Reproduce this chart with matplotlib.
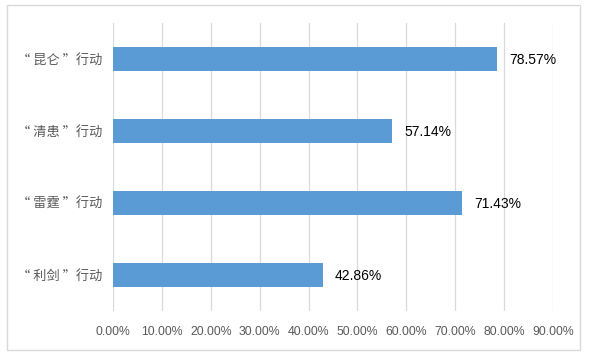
import numpy as np
import matplotlib.pyplot as plt
from matplotlib.patches import Rectangle

plt.rcParams['font.family'] = ['Noto Sans CJK SC', 'DejaVu Sans']

categories = ['“昆仑”行动', '“清患”行动', '“雷霆”行动', '“利剑”行动']
values = [78.57, 57.14, 71.43, 42.86]
xticks = [0, 10, 20, 30, 40, 50, 60, 70, 80, 90]

bar_color = '#5B9BD5'
grid_color = '#D9D9D9'
text_gray = '#595959'

fig = plt.figure(figsize=(5.89, 3.57), dpi=100)
ax = fig.add_axes([113/589, 46/357, 440/589, 288/357])

y = np.arange(len(categories))
ax.barh(y, values, height=0.32, color=bar_color, zorder=2)
ax.set_ylim(len(categories) - 0.5, -0.5)
ax.set_xlim(0, 90)

ax.set_yticks(y)
ax.set_yticklabels([c.replace('“', '“ ').replace('”', ' ”') for c in categories],
                   fontsize=9.5, color=text_gray)
ax.set_xticks(xticks)
ax.set_xticklabels(['%.2f%%' % t for t in xticks], fontsize=8.8, color=text_gray,
                   family=['Liberation Sans', 'DejaVu Sans'])
ax.tick_params(axis='both', length=0)
ax.tick_params(axis='x', pad=11)
ax.tick_params(axis='y', pad=8)

ax.grid(axis='x', color=grid_color, linewidth=0.9, zorder=0)
for s in ax.spines.values():
    s.set_visible(False)

for yi, v in zip(y, values):
    ax.text(v + 2.4, yi + 0.02, '%.2f%%' % v, va='center', ha='left', fontsize=10,
            color='black', family=['Liberation Sans', 'DejaVu Sans'])

# chart border
fig.patches.append(Rectangle((7/589, 7/357), 573/589, 345/357, transform=fig.transFigure,
                             fill=False, edgecolor=grid_color, linewidth=1))

plt.savefig('out.png', dpi=100)
